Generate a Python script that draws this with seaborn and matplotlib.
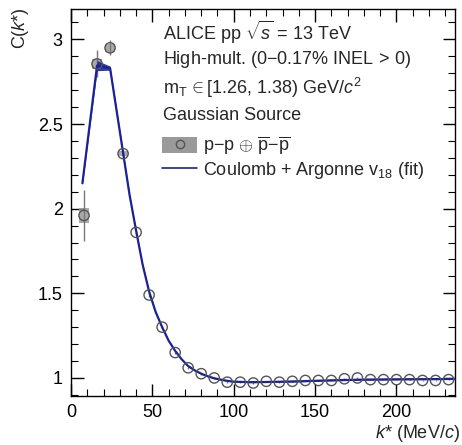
import numpy as np
import pandas as pd
import matplotlib
matplotlib.use("Agg")
import matplotlib.pyplot as plt
from matplotlib.patches import Rectangle
from matplotlib.lines import Line2D
from matplotlib.ticker import MultipleLocator
import seaborn as sns

# ---- data ----
k_data = [8, 16, 24, 32, 40, 48, 56, 64, 72, 80, 88, 96, 104, 112, 120, 128, 136,
          144, 152, 160, 168, 176, 184, 192, 200, 208, 216, 224, 232]
c_data = [1.96, 2.855, 2.95, 2.325, 1.86, 1.49, 1.30, 1.15, 1.06, 1.025, 1.00, 0.975,
          0.975, 0.97, 0.98, 0.975, 0.98, 0.985, 0.985, 0.985, 0.995, 1.0, 0.99,
          0.99, 0.99, 0.99, 0.985, 0.985, 0.99]
stat_err = [0.15, 0.08, 0.045, 0.02, 0.015, 0.01, 0.008, 0.006, 0.005, 0.005, 0.004,
            0.004, 0.004, 0.004, 0.004, 0.004, 0.004, 0.004, 0.004, 0.004, 0.004,
            0.004, 0.004, 0.004, 0.004, 0.004, 0.004, 0.004, 0.004]
sys_err = [0.045, 0.03, 0.025, 0.015, 0.006, 0.004, 0.003, 0.002, 0.002, 0.002, 0.002,
           0.002, 0.002, 0.002, 0.002, 0.002, 0.002, 0.002, 0.002, 0.002, 0.002,
           0.002, 0.002, 0.002, 0.002, 0.002, 0.002, 0.002, 0.002]

k_fit = [7, 16, 24, 32, 36, 40, 44, 48, 52, 56, 60, 64, 68, 72, 76, 80, 84, 88, 92,
         96, 100, 110, 120, 140, 160, 180, 200, 220, 236]
c_fit = [2.15, 2.845, 2.83, 2.33, 2.08, 1.87, 1.67, 1.51, 1.39, 1.30, 1.22, 1.16,
         1.11, 1.07, 1.045, 1.025, 1.01, 0.998, 0.99, 0.983, 0.978, 0.975, 0.976,
         0.98, 0.986, 0.99, 0.992, 0.993, 0.994]
fit_halfwidth = [0.01, 0.03, 0.012, 0.01, 0.008, 0.007, 0.006, 0.005, 0.005, 0.004,
                 0.004, 0.004, 0.003, 0.003, 0.003, 0.003, 0.003, 0.003, 0.003, 0.003,
                 0.003, 0.003, 0.003, 0.003, 0.003, 0.003, 0.003, 0.003, 0.003]

x_ticks = [0, 50, 100, 150, 200]
y_ticks = [1, 1.5, 2, 2.5, 3]

df_data = pd.DataFrame({"k": k_data, "C": c_data, "stat": stat_err, "sys": sys_err})
df_fit = pd.DataFrame({"k": k_fit, "C": c_fit, "hw": fit_halfwidth})

# ---- style ----
sns.set_theme(style="ticks")
plt.rcParams["font.family"] = ["Liberation Sans", "DejaVu Sans"]
plt.rcParams["mathtext.fontset"] = "custom"
plt.rcParams["mathtext.rm"] = "Liberation Sans"
plt.rcParams["mathtext.it"] = "Liberation Sans:italic"
plt.rcParams["mathtext.bf"] = "Liberation Sans:bold"

FS = 13
line_col = "#1a2396"
box_col = "#9a9a9a"
mk_col = "#555555"

fig = plt.figure(figsize=(4.62, 4.45), dpi=100)
ax = fig.add_axes([0.1537, 0.110, 0.985 - 0.1537, 0.980 - 0.110])

# systematic boxes
box_w = 6.0
for k, c, s in zip(df_data["k"], df_data["C"], df_data["sys"]):
    if s >= 0.01:
        ax.add_patch(Rectangle((k - box_w / 2, c - s), box_w, 2 * s,
                               facecolor=box_col, edgecolor="none", alpha=0.85,
                               zorder=2))

# statistical error bars
ax.errorbar(df_data["k"], df_data["C"], yerr=df_data["stat"], fmt="none",
            ecolor="#777777", elinewidth=1.0, capsize=0, zorder=3)

# fit band + line
ax.fill_between(df_fit["k"], df_fit["C"] - df_fit["hw"], df_fit["C"] + df_fit["hw"],
                color=line_col, alpha=0.9, linewidth=0, zorder=4)
sns.lineplot(data=df_fit, x="k", y="C", ax=ax, color=line_col, linewidth=1.6,
             zorder=5, legend=False)

# data markers
sns.scatterplot(data=df_data, x="k", y="C", ax=ax, marker="o", s=55,
                facecolor="none", edgecolor=mk_col, linewidth=1.0, zorder=6,
                legend=False)

ax.set_xlim(0, 236)
ax.set_ylim(0.893, 3.18)
ax.set_xticks(x_ticks)
ax.set_yticks(y_ticks)
ax.set_xticklabels([str(t) for t in x_ticks])
ax.set_yticklabels(["1", "1.5", "2", "2.5", "3"])
ax.xaxis.set_minor_locator(MultipleLocator(10))
ax.yaxis.set_minor_locator(MultipleLocator(0.1))
ax.tick_params(which="both", direction="in", top=True, right=True,
               labelsize=FS, colors="black")
ax.tick_params(which="major", length=9, width=1.0, pad=6)
ax.tick_params(which="minor", length=5, width=0.8)
for sp in ax.spines.values():
    sp.set_linewidth(1.0)
    sp.set_color("black")

ax.set_xlabel("")
ax.set_ylabel("")
fig.text(0.995, 0.026, r"$k$* (MeV/$c$)", ha="right", va="center", fontsize=FS)
fig.text(0.045, 0.985, r"C($k$*)", ha="center", va="top", rotation=90, fontsize=FS)

# annotation text
tx = 163 / 462
lines = [r"ALICE pp $\sqrt{s}$ = 13 TeV",
         r"High-mult. (0$-$0.17% INEL$\,>\,$0)",
         r"m$_{\mathrm{T}}\,\in$[1.26, 1.38) GeV/$c^{2}$",
         "Gaussian Source"]
ys = [32, 60, 88, 116]
for t, y in zip(lines, ys):
    fig.text(tx, 1 - y / 445, t, ha="left", va="center", fontsize=FS)

# legend
h_data = (Rectangle((0, 0), 1, 1, facecolor=box_col, edgecolor="none"),
          Line2D([], [], marker="o", linestyle="none", markerfacecolor="none",
                 markeredgecolor=mk_col, markersize=6))
h_fit = Line2D([], [], color=line_col, linewidth=1.2)
leg = ax.legend([h_data, h_fit],
                [r"p$-$p $\oplus$ $\overline{\mathrm{p}}$$-$$\overline{\mathrm{p}}$",
                 r"Coulomb + Argonne v$_{18}$ (fit)"],
                loc="upper left",
                bbox_to_anchor=((163 - 71) / (455 - 71) - 0.025, 1 - (126 - 9) / (396 - 9)),
                frameon=False, fontsize=FS, handlelength=1.9, handleheight=1.0,
                handletextpad=0.35, labelspacing=0.15, borderpad=0.0)

fig.savefig("out.png", dpi=100)
